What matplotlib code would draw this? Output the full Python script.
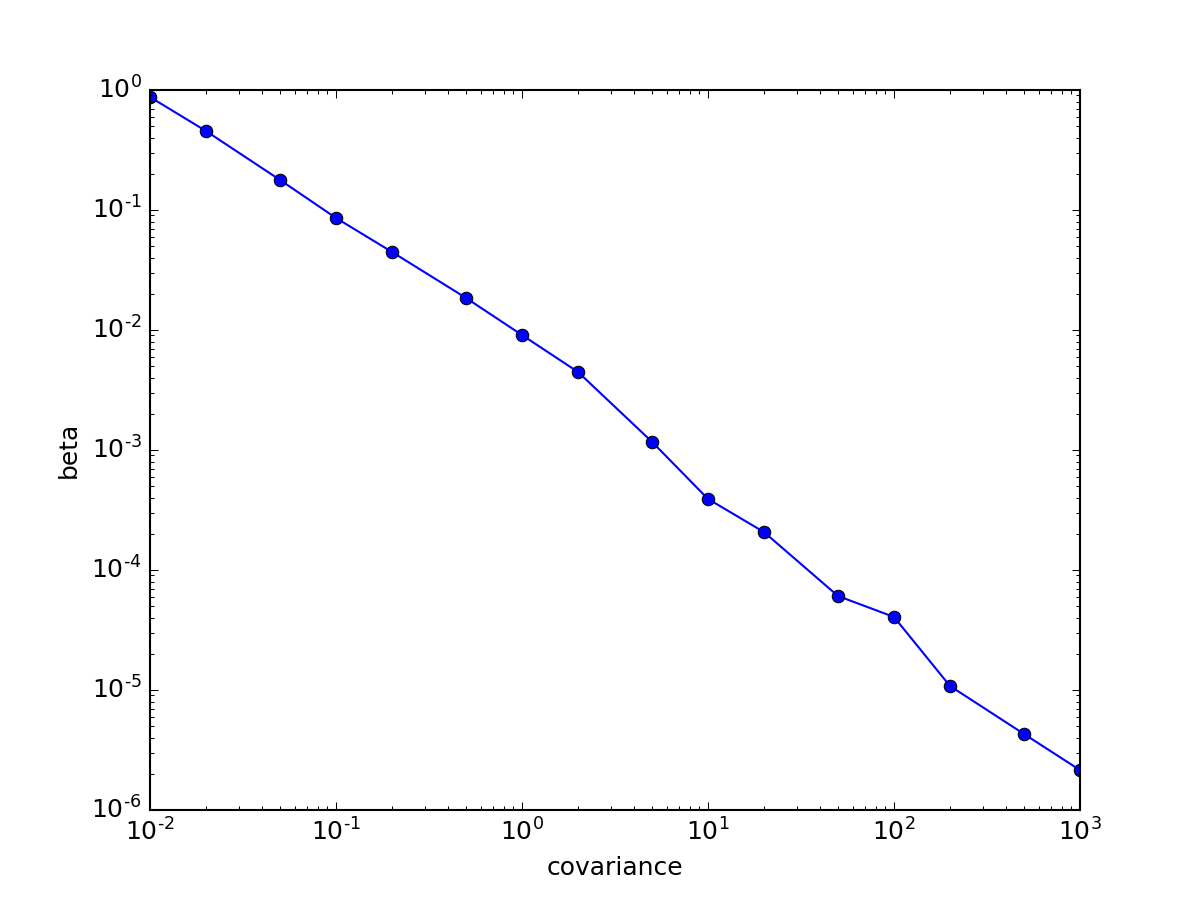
import matplotlib
matplotlib.use("Agg")
import matplotlib.pyplot as plt
from matplotlib.ticker import FuncFormatter, LogLocator
import math

plt.style.use('classic')

covariance = [0.01, 0.02, 0.05, 0.1, 0.2, 0.5, 1, 2, 5, 10, 20, 50, 100, 200, 500, 1000]
beta = [0.874, 0.455, 0.178, 0.0858, 0.0447, 0.0185, 0.00908, 0.00447, 0.00117,
        0.000391, 0.000207, 6.07e-5, 4.06e-5, 1.08e-5, 4.3e-6, 2.15e-6]


def fmt(v, pos):
    e = int(round(math.log10(v)))
    s = str(abs(e))
    if e < 0:
        s = '\u2010' + s
    return r'$\mathdefault{10^{%s}}$' % s


fig = plt.figure(figsize=(8, 6), dpi=150)
ax = fig.add_subplot(111)
ax.loglog(covariance, beta, 'o-', color='b')
ax.set_xlim(1e-2, 1e3)
ax.set_ylim(1e-6, 1e0)
ax.xaxis.set_major_locator(LogLocator(base=10))
ax.yaxis.set_major_locator(LogLocator(base=10))
ax.xaxis.set_major_formatter(FuncFormatter(fmt))
ax.yaxis.set_major_formatter(FuncFormatter(fmt))
ax.set_xlabel('covariance')
ax.set_ylabel('beta')
fig.savefig('out.png', dpi=150)
